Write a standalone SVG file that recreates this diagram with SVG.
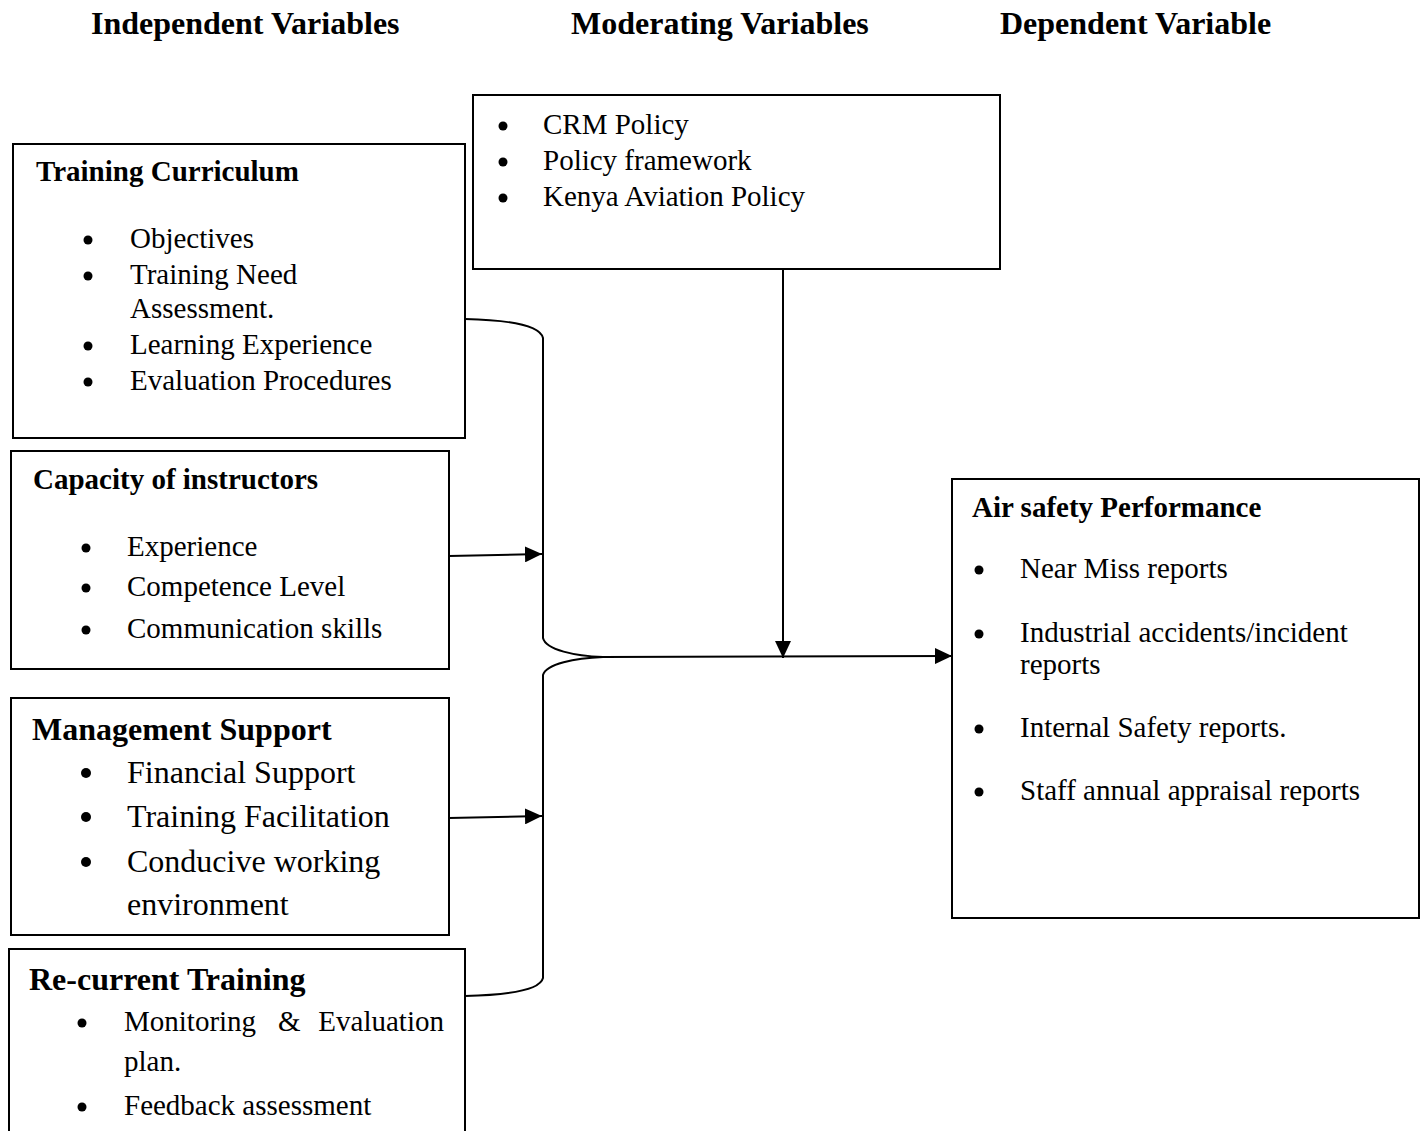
<svg xmlns="http://www.w3.org/2000/svg" width="1422" height="1131" viewBox="0 0 1422 1131">
<style>
.box{fill:#fff;stroke:#000;stroke-width:2}
.hd{font-family:"Liberation Serif","Times New Roman",serif;font-weight:bold;font-size:32px;fill:#000}
.t{font-family:"Liberation Serif","Times New Roman",serif;font-weight:bold;font-size:29px;fill:#000}
.b{font-family:"Liberation Serif","Times New Roman",serif;font-size:29px;fill:#000}
.tl{font-family:"Liberation Serif","Times New Roman",serif;font-weight:bold;font-size:32px;fill:#000}
.bl{font-family:"Liberation Serif","Times New Roman",serif;font-size:32px;fill:#000}
.c{fill:none;stroke:#000;stroke-width:2}
</style>
<defs>
<marker id="ah" markerWidth="17" markerHeight="16" refX="17" refY="8" orient="auto" markerUnits="userSpaceOnUse"><path d="M0,0 L17,8 L0,16 z" fill="#000"/></marker>
</defs>
<rect width="1422" height="1131" fill="#fff"/>
<g id="headers">
<text class="hd" x="91" y="34">Independent Variables</text>
<text class="hd" x="571" y="34">Moderating Variables</text>
<text class="hd" x="1000" y="34">Dependent Variable</text>
</g>
<g id="connectors">
<path class="c" d="M465,319 C510,320 540,326 543,338 L543,638 C546,650 575,656 603,657"/>
<path class="c" d="M603,657 C575,658 546,664 543,675 L543,978 C540,990 510,995 465,996"/>
<path class="c" d="M603,657 L952,656" marker-end="url(#ah)"/>
<path class="c" d="M783,269 L783,658" marker-end="url(#ah)"/>
<path class="c" d="M449,556 L542,554" marker-end="url(#ah)"/>
<path class="c" d="M449,818 L542,816" marker-end="url(#ah)"/>
</g>
<g id="training-curriculum">
<rect class="box" x="13" y="144" width="452" height="294"/>
<text class="t" x="36" y="181">Training Curriculum</text>
<circle cx="88" cy="240" r="4.5"/><text class="b" x="130" y="248">Objectives</text>
<circle cx="88" cy="276" r="4.5"/><text class="b" x="130" y="284">Training Need</text>
<text class="b" x="130" y="318">Assessment.</text>
<circle cx="88" cy="346" r="4.5"/><text class="b" x="130" y="354">Learning Experience</text>
<circle cx="88" cy="382" r="4.5"/><text class="b" x="130" y="390">Evaluation Procedures</text>
</g>
<g id="capacity-of-instructors">
<rect class="box" x="11" y="451" width="438" height="218"/>
<text class="t" x="33" y="489">Capacity of instructors</text>
<circle cx="86" cy="548" r="4.5"/><text class="b" x="127" y="556">Experience</text>
<circle cx="86" cy="588" r="4.5"/><text class="b" x="127" y="596">Competence Level</text>
<circle cx="86" cy="630" r="4.5"/><text class="b" x="127" y="638">Communication skills</text>
</g>
<g id="management-support">
<rect class="box" x="11" y="698" width="438" height="237"/>
<text class="tl" x="32" y="740">Management Support</text>
<circle cx="86" cy="773" r="5"/><text class="bl" x="127" y="783">Financial Support</text>
<circle cx="86" cy="817" r="5"/><text class="bl" x="127" y="827">Training Facilitation</text>
<circle cx="86" cy="862" r="5"/><text class="bl" x="127" y="872">Conducive working</text>
<text class="bl" x="127" y="915">environment</text>
</g>
<g id="re-current-training">
<rect class="box" x="9" y="949" width="456" height="200"/>
<text class="tl" x="29" y="990">Re-current Training</text>
<circle cx="82" cy="1023" r="4.5"/><text class="b" y="1031"><tspan x="124">Monitoring</tspan><tspan x="278">&amp;</tspan><tspan x="444" text-anchor="end">Evaluation</tspan></text>
<text class="b" x="124" y="1071">plan.</text>
<circle cx="82" cy="1107" r="4.5"/><text class="b" x="124" y="1115">Feedback assessment</text>
</g>
<g id="moderating">
<rect class="box" x="473" y="95" width="527" height="174"/>
<circle cx="503" cy="126" r="4.5"/><text class="b" x="543" y="134">CRM Policy</text>
<circle cx="503" cy="162" r="4.5"/><text class="b" x="543" y="170">Policy framework</text>
<circle cx="503" cy="198" r="4.5"/><text class="b" x="543" y="206">Kenya Aviation Policy</text>
</g>
<g id="air-safety-performance">
<rect class="box" x="952" y="479" width="467" height="439"/>
<text class="t" x="972" y="517">Air safety Performance</text>
<circle cx="979" cy="570" r="4.5"/><text class="b" x="1020" y="578">Near Miss reports</text>
<circle cx="979" cy="634" r="4.5"/><text class="b" x="1020" y="642">Industrial accidents/incident</text>
<text class="b" x="1020" y="674">reports</text>
<circle cx="979" cy="729" r="4.5"/><text class="b" x="1020" y="737">Internal Safety reports.</text>
<circle cx="979" cy="792" r="4.5"/><text class="b" x="1020" y="800">Staff annual appraisal reports</text>
</g>
</svg>
